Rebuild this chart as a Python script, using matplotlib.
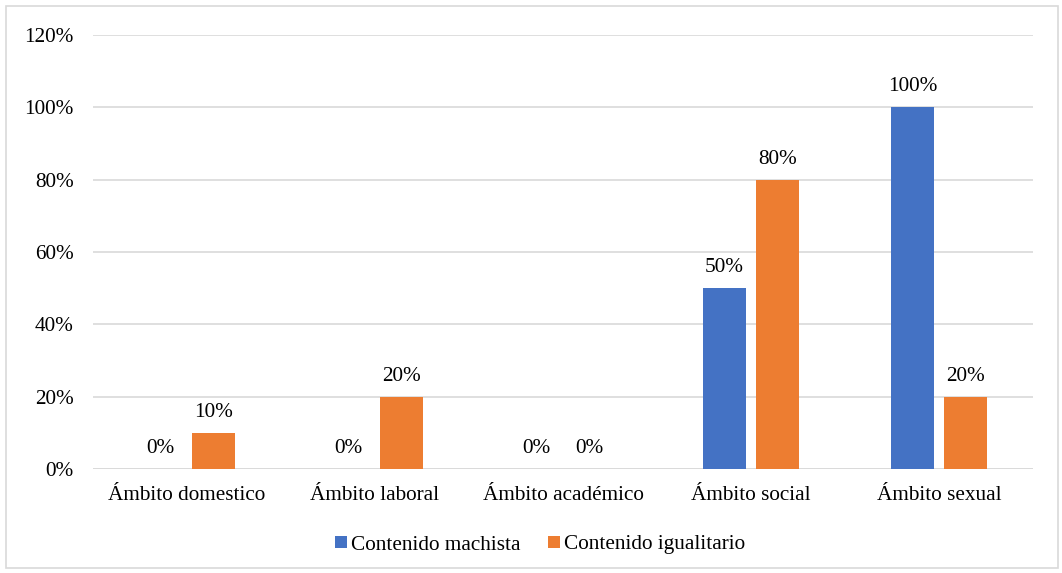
import matplotlib
matplotlib.use("Agg")
import matplotlib.pyplot as plt
import numpy as np
from matplotlib.patches import Rectangle

categories = ["Ámbito domestico", "Ámbito laboral", "Ámbito académico", "Ámbito social", "Ámbito sexual"]
machista = [0, 0, 0, 50, 100]
igualitario = [10, 20, 0, 80, 20]
series_names = ["Contenido machista", "Contenido igualitario"]
yticks = [0, 20, 40, 60, 80, 100, 120]

plt.rcParams['font.family'] = ['Liberation Serif', 'DejaVu Serif']
FS = 15.3

fig = plt.figure(figsize=(10.62, 5.73), dpi=100)
ax = fig.add_axes([93/1062, 1-469/573, 940/1062, 434/573])

x = np.arange(len(categories))
w = 0.225
off = 0.141
c1, c2 = "#4472C4", "#ED7D31"
b1 = ax.bar(x - off, machista, w, color=c1, label=series_names[0], zorder=3)
b2 = ax.bar(x + off, igualitario, w, color=c2, label=series_names[1], zorder=3)

for bars, vals in ((b1, machista), (b2, igualitario)):
    for b, v in zip(bars, vals):
        ax.annotate(f"{v}%", (b.get_x() + b.get_width()/2, v), xytext=(0, 8),
                    textcoords="offset points", ha="center", va="bottom", fontsize=FS)

ax.set_xlim(-0.5, 4.5)
ax.set_ylim(0, 120)
ax.set_yticks(yticks)
ax.set_yticklabels([f"{t}%" for t in yticks], fontsize=FS)
ax.set_xticks(x)
ax.set_xticklabels(categories, fontsize=FS)
ax.tick_params(axis='both', length=0)
ax.tick_params(axis='y', pad=14)
ax.tick_params(axis='x', pad=12)
ax.grid(axis='y', color="#d9d9d9", linewidth=1.2, zorder=0)
for s in ax.spines.values():
    s.set_visible(False)
ax.axhline(0, color="#d9d9d9", linewidth=1.2, zorder=2)

leg = fig.legend(handles=[b1, b2], labels=series_names, loc="center", bbox_to_anchor=(540/1062, 1-545/573),
                 ncol=2, frameon=False, fontsize=FS, handlelength=0.55, handleheight=0.55,
                 handletextpad=0.2, columnspacing=1.3)

fig.patches.append(Rectangle((6/1062, 5/573), 1052/1062, 562/573, transform=fig.transFigure,
                             fill=False, edgecolor="#d9d9d9", linewidth=1.2))

fig.savefig("out.png", dpi=100)
